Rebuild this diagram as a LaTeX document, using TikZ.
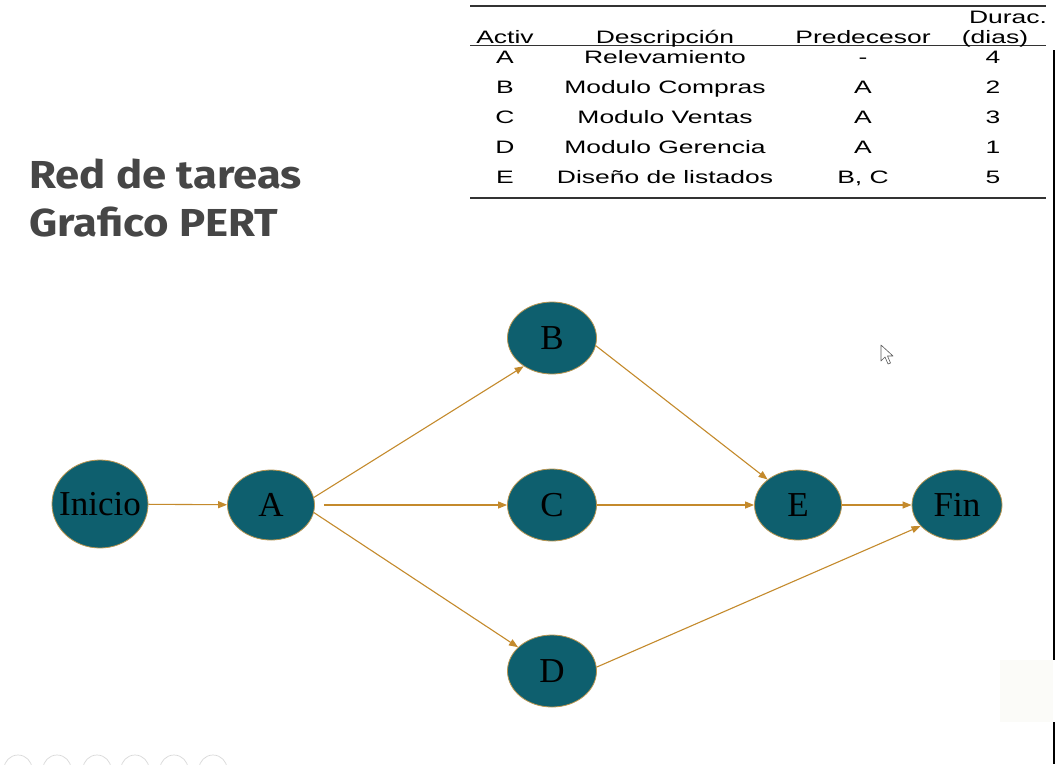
\documentclass[tikz,border=0pt]{standalone}
\usepackage{fontspec}
\usetikzlibrary{shapes.geometric,arrows.meta}
\setmainfont{Liberation Serif}
\newfontfamily\titlefont[FakeStretch=1.12]{Fira Sans}
\newfontfamily\tabfont[FakeStretch=1.47]{Liberation Sans}
\definecolor{teal}{HTML}{0E5F6E}
\definecolor{rim}{HTML}{B89550}
\definecolor{link}{HTML}{C48A2C}
\definecolor{titlegray}{HTML}{464646}
\definecolor{paper}{HTML}{FBFBF8}
\begin{document}
\begin{tikzpicture}[x=1pt,y=-1pt,
  event/.style={ellipse,draw=rim,line width=0.8pt,fill=teal,inner sep=0pt,
    font=\fontsize{35}{40}\selectfont,text=black},
  small/.style={event,minimum width=87pt,minimum height=70pt},
  mid/.style={event,minimum width=89pt,minimum height=72pt},
  big/.style={event,minimum width=96pt,minimum height=88pt},
  link/.style={draw=link,line width=1.1pt,-{Triangle[length=9pt,width=7pt]}},
  cell/.style={font=\tabfont\fontsize{18}{19}\selectfont,inner sep=0pt,anchor=base},
  rule/.style={line width=1.4pt,draw=black!80},
  ttl/.style={font=\titlefont\bfseries\fontsize{39}{40}\selectfont,text=titlegray,anchor=base west,inner sep=0pt}
]
\useasboundingbox (0,0) rectangle (1055,764);
\fill[white] (0,0) rectangle (1055,764);

% title
\node[ttl] (t1) at (29,188) {Red de tareas};
\node[ttl] (t2) at (29,236) {Grafico PERT};

% activity table
\draw[rule] (470,6) -- (1046,6);
\draw[rule] (470,45.5) -- (1046,45.5);
\draw[rule] (470,198) -- (1046,198);
\node[cell] (hd) at (1008,23) {Durac.};
\node[cell] (h1) at (505,43) {Activ};
\node[cell] (h2) at (665,43) {Descripción};
\node[cell] (h3) at (863,43) {Predecesor};
\node[cell] (h4) at (995,43) {(dias)};
\foreach \act/\desc/\pre/\dur [count=\i] in
  {A/Relevamiento/-/4, B/Modulo Compras/A/2, C/Modulo Ventas/A/3,
   D/Modulo Gerencia/A/1, E/Diseño de listados/{B, C}/5} {
  \node[cell] (r\i a) at (505,33+30*\i) {\act};
  \node[cell] (r\i b) at (665,33+30*\i) {\desc};
  \node[cell] (r\i c) at (863,33+30*\i) {\pre};
  \node[cell] (r\i d) at (993,33+30*\i) {\dur};
}

% PERT network
\node[big]   (ini) at (100,504) {\makebox[0pt]{Inicio}};
\node[small] (A)   at (271,505) {A};
\node[mid]   (B)   at (552,338) {B};
\node[mid]   (C)   at (552,505) {C};
\node[mid]   (D)   at (552,671) {D};
\node[small] (E)   at (798,505) {E};
\node[small,minimum width=90pt] (fin) at (957,505) {Fin};

\draw[link] (ini) -- (A);
\draw[link] (A.10) -- (B.225);
\draw[link,shorten <=9pt] (A) -- (C);
\draw[link] (A.-10) -- (D.145);
\draw[link] (B.-10) -- (E.140);
\draw[link] (C) -- (E);
\draw[link] (D.5) -- (fin.210);
\draw[link] (E) -- (fin);

% mouse pointer
\draw[gray!70!black,fill=white,line width=0.6pt,line join=round]
  (881,345) -- (881,361) -- (885,357) -- (888,364) -- (890.5,363) -- (887.5,356) -- (893,356) -- cycle;

% screen border and player controls
\fill[black] (1052.5,50) rectangle (1055,660);
\fill[black] (1052.5,722) rectangle (1055,764);
\fill[paper] (1000,660) rectangle (1052.5,722);
\foreach \cx in {18,57,97,135,174,213}
  \draw[black!15,line width=0.7pt] (\cx,769) circle (14);
\end{tikzpicture}
\end{document}
